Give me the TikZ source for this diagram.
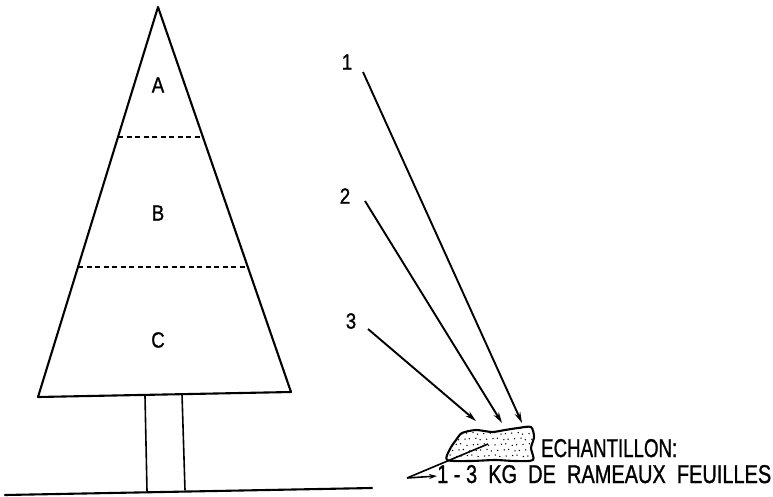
\documentclass[tikz,border=0pt]{standalone}
\usepackage{fontspec}
\setmainfont{Liberation Sans}
\newfontfamily\letterfont[FakeBold=1.2]{Liberation Sans}
\usetikzlibrary{arrows.meta}
\tikzset{
  ink/.style={line width=2.1pt, line cap=round, line join=round},
  thin ink/.style={line width=1.6pt, line cap=round},
  zone/.style={dash pattern=on 5pt off 3.5pt, line width=1.6pt},
  ray/.style={line width=1.9pt, -{Stealth[length=11pt,width=6pt]}},
  lbl/.style={inner sep=0pt, font=\letterfont\fontsize{22}{22}\selectfont},
}
\newcommand{\narrow}[1]{\scalebox{0.85}[1]{#1}}
\begin{document}
\begin{tikzpicture}[x=1pt,y=-1pt]
\useasboundingbox (0,0) rectangle (773,496);
% tree crown
\coordinate (apex) at (158,7);
\coordinate (bl) at (38,397);
\coordinate (br) at (291,392);
\draw[ink] (bl) -- (apex) -- (br) -- cycle;
% zone boundaries
\coordinate (d1l) at (118,137);
\coordinate (d1r) at (203,137);
\coordinate (d2l) at (78,267);
\coordinate (d2r) at (247,267);
\draw[zone] (d1l) -- (d1r);
\draw[zone] (d2l) -- (d2r);
\node[lbl] (A) at (158,85) {\narrow{A}};
\node[lbl] (B) at (158,213) {\narrow{B}};
\node[lbl] (C) at (158,340) {\narrow{C}};
% trunk
\coordinate (t1a) at (145,396);
\coordinate (t1b) at (147,491);
\coordinate (t2a) at (182,394);
\coordinate (t2b) at (185,490);
\draw[thin ink] (t1a) -- (t1b);
\draw[thin ink] (t2a) -- (t2b);
% ground
\coordinate (g1) at (5,495);
\coordinate (g2) at (372,488);
\draw[ink] (g1) -- (g2);
% sample blob
\begin{scope}
\clip plot[smooth cycle, tension=0.45] coordinates {(447,460) (450,449) (456,440) (462,433) (476,430) (492,432) (505,430) (518,428) (531,427) (534,437) (531,448) (533,460) (515,461) (495,460) (470,461)};
\foreach \i in {0,...,17} {
  \foreach \j in {0,...,6} {
    \pgfmathsetmacro{\xx}{441+\i*5.6+mod(\j,2)*2.8+mod(\i*7+\j*3,5)*0.4}
    \pgfmathsetmacro{\yy}{427+\j*5.6+mod(\i*3+\j,4)*0.5}
    \fill (\xx,\yy) circle (0.75pt);
  }
}
\end{scope}
\draw[ink] plot[smooth cycle, tension=0.45] coordinates {(447,460) (450,449) (456,440) (462,433) (476,430) (492,432) (505,430) (518,428) (531,427) (534,437) (531,448) (533,460) (515,461) (495,460) (470,461)};
% numbered rays
\node[lbl] (n1) at (347,62) {\narrow{1}};
\node[lbl] (n2) at (345,196) {\narrow{2}};
\node[lbl] (n3) at (351,321) {\narrow{3}};
\coordinate (s1) at (363,72);
\coordinate (s2) at (365,201);
\coordinate (s3) at (368,329);
\coordinate (e1) at (522,423);
\coordinate (e2) at (502,423);
\coordinate (e3) at (476,421);
\draw[ray] (s1) -- (e1);
\draw[ray] (s2) -- (e2);
\draw[ray] (s3) -- (e3);
% texts
\node[anchor=base west, inner sep=0pt] (ech) at (541,457) {\resizebox{136pt}{18pt}{\letterfont ECHANTILLON:}};
\node[anchor=base west, inner sep=0pt] (kg) at (437,483) {\resizebox{334pt}{18pt}{\letterfont 1\ -\ 3\ \ KG\ \ DE\ \ RAMEAUX\ \ FEUILLES}};
\coordinate (inb) at (488,444);
\coordinate (corner) at (407,478);
\draw[line width=1.6pt] (inb) -- (corner);
\draw[line width=1.6pt, -{Stealth[length=8pt,width=5pt]}] (corner) -- (kg.west |- 475,476);
\end{tikzpicture}
\end{document}
